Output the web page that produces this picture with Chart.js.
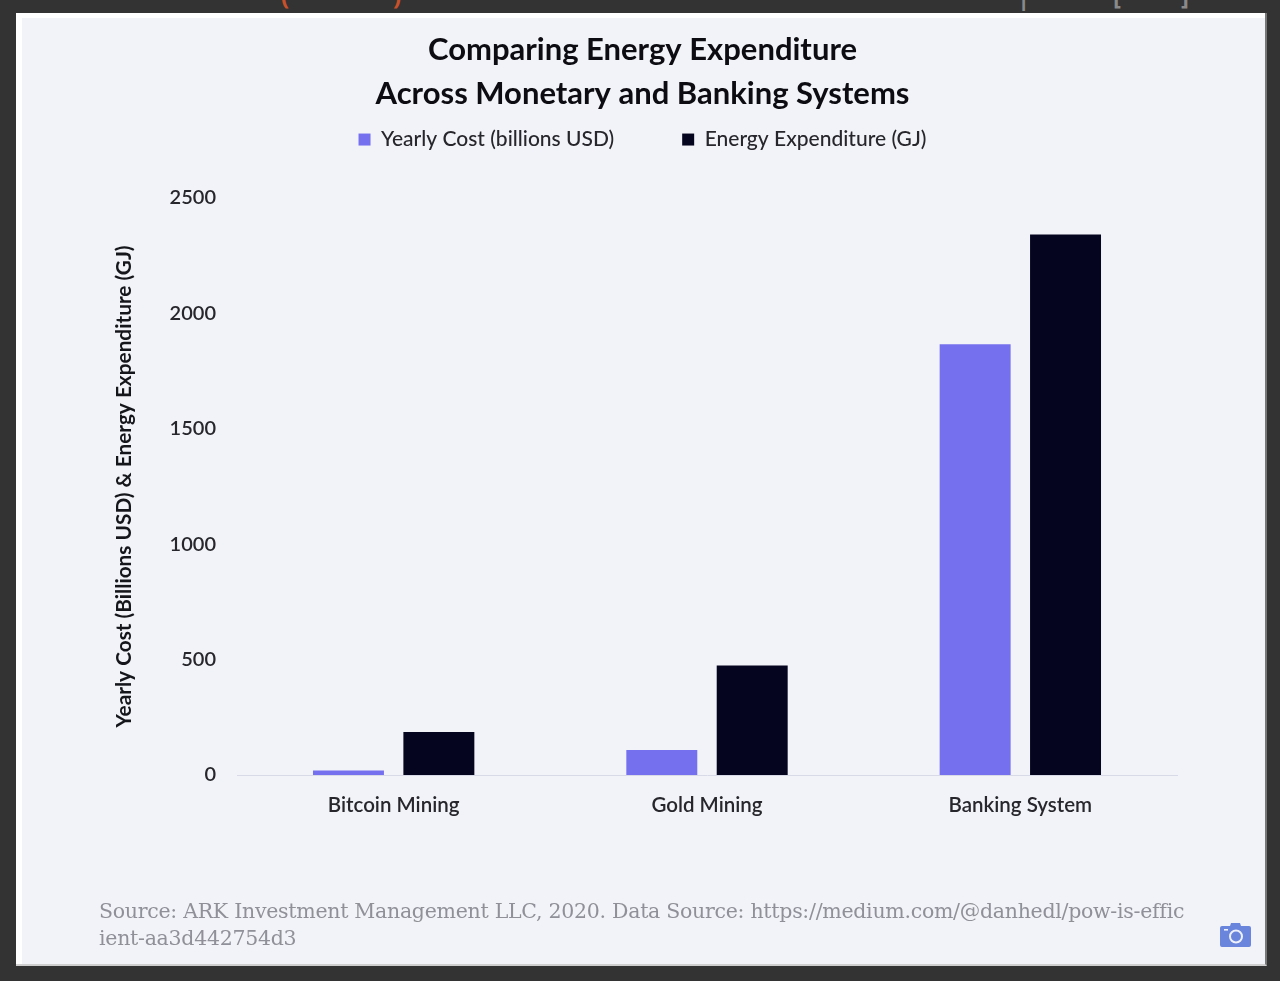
<!DOCTYPE html>
<html>
<head>
<meta charset="utf-8">
<title>Comparing Energy Expenditure</title>
<script src="https://cdn.jsdelivr.net/npm/chart.js@4"></script>
<style>
    html, body { margin: 0; padding: 0; width: 1280px; height: 981px; overflow: hidden; background: #333333; }
    #frame { position: absolute; left: 16px; top: 13px; width: 1249px; height: 951px; background: #ffffff; border-bottom: 2px solid #cfcfcf; border-right: 2px solid #777777; }
    #panel { position: absolute; left: 22px; top: 18px; width: 1243px; height: 946px; background: #f2f3f8; }
    #chart-box { position: absolute; left: 22px; top: 18px; width: 1243px; height: 946px; filter: blur(0.4px); }
    #source { position: absolute; left: 99px; top: 898px; font: 20.5px/27px "DejaVu Serif", serif; color: #8f9098; white-space: pre; letter-spacing: -0.28px; filter: blur(0.4px); }
    #camera { position: absolute; left: 1220px; top: 923px; }
    .top-bit { position: absolute; top: -14px; font: 24px/20px "Open Sans", sans-serif; }
</style>
</head>
<body>
<span class="top-bit" style="left: 281px; color: #c9512a; font-weight: 700;">(</span>
<span class="top-bit" style="left: 393px; color: #c9512a; font-weight: 700;">)</span>
<span class="top-bit" style="left: 1017px; color: #8a8a8a; font-weight: 700;">|</span>
<span class="top-bit" style="left: 1113px; color: #8a8a8a; font-weight: 700;">[</span>
<span class="top-bit" style="left: 1181px; color: #8a8a8a; font-weight: 700;">]</span>
<div id="frame"></div>
<div id="panel"></div>
<div id="chart-box"><canvas id="plot-energy"></canvas></div>
<div id="source"></div>
<svg id="camera" width="31" height="24" viewBox="0 0 31 24">
    <path d="M2 3h8l1-3h9l1 3h8a2 2 0 0 1 2 2v17a2 2 0 0 1-2 2H2a2 2 0 0 1-2-2V5a2 2 0 0 1 2-2z" fill="#6a85dc"/>
    <circle cx="16" cy="13.5" r="6" fill="none" stroke="#eef1fb" stroke-width="2"/>
    <rect x="4" y="6" width="4" height="1.6" fill="#eef1fb"/>
</svg>
<script>
const categories = ['Bitcoin Mining', 'Gold Mining', 'Banking System'];
const yearly_cost = [20, 108, 1866];
const energy_expenditure = [186, 475, 2342];
const y_ticks = [0, 500, 1000, 1500, 2000, 2500];
const title_lines = ['Comparing Energy Expenditure', 'Across Monetary and Banking Systems'];
const source_lines = [
    'Source: ARK Investment Management LLC, 2020. Data Source: https://medium.com/@danhedl/pow-is-effic',
    'ient-aa3d442754d3'
];

document.getElementById('source').textContent = source_lines.join('\n');

const font_name = 'Lato, "Open Sans", sans-serif';

// legend padding sets both the item gap and the vertical room, so pull it back up by hand
const legend_shift = {
    id: 'legend_shift',
    beforeInit(chart) {
        const old_fit = chart.legend.fit;
        chart.legend.fit = function () {
            old_fit.call(this);
            this.height -= 23;
        };
    },
    afterLayout(chart) {
        chart.legend.top -= 61;
    }
};

let ctx = document.getElementById('plot-energy');
var chart = new Chart(ctx, {
    type: 'bar',
    data: {
        labels: categories,
        datasets: [
            {
                label: 'Yearly Cost (billions USD)',
                data: yearly_cost,
                backgroundColor: '#7570ee',
                barPercentage: 0.785,
                categoryPercentage: 0.577
            },
            {
                label: 'Energy Expenditure (GJ)',
                data: energy_expenditure,
                backgroundColor: '#05051f',
                barPercentage: 0.785,
                categoryPercentage: 0.577
            }
        ]
    },
    plugins: [legend_shift],
    options: {
        responsive: true,
        maintainAspectRatio: false,
        animation: false,
        layout: { padding: { left: 86, right: 88, top: 10, bottom: 0 } },
        scales: {
            y: {
                min: 0,
                max: 2500,
                afterBuildTicks: (axis) => { axis.ticks = y_ticks.map((v) => ({ value: v })); },
                afterFit: (axis) => { axis.width = 129; },
                grid: { display: false },
                border: { display: false },
                ticks: {
                    color: '#26262c',
                    padding: 13,
                    callback: (v) => String(v),
                    font: { family: font_name, size: 20, weight: '600' }
                },
                title: {
                    display: true,
                    text: 'Yearly Cost (Billions USD) & Energy Expenditure (GJ)',
                    color: '#15151c',
                    font: { family: font_name, size: 20.8, weight: 'bold' }
                }
            },
            x: {
                afterFit: (axis) => { axis.height = 189; },
                grid: { display: false },
                border: { display: true, color: '#d9dae8', width: 1 },
                ticks: { color: '#26262c', padding: 10, font: { family: font_name, size: 20.5, weight: '600' } }
            }
        },
        plugins: {
            title: {
                display: true,
                text: title_lines,
                color: '#0c0c12',
                font: { family: font_name, size: 31, weight: 'bold', lineHeight: 1.42 },
                padding: { top: 0, bottom: 6 }
            },
            legend: {
                display: true,
                labels: {
                    color: '#26262c',
                    boxWidth: 12,
                    boxHeight: 12,
                    padding: 68,
                    font: { family: font_name, size: 21, weight: '500' }
                }
            },
            tooltip: { enabled: false }
        }
    }
});
</script>
</body>
</html>
